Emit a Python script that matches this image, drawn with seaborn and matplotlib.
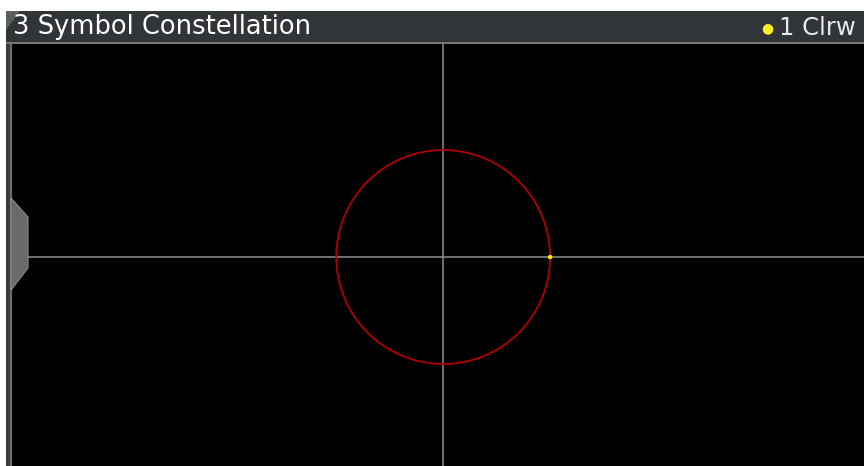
import numpy as np
import pandas as pd
import matplotlib
matplotlib.use("Agg")
import matplotlib.pyplot as plt
from matplotlib.patches import Rectangle, Circle, Polygon
import seaborn as sns

# ---- data ----
title_text = "3 Symbol Constellation"
trace_label = "1 Clrw"
circle_radius = [1.0]
symbol_I = [1.0]
symbol_Q = [0.0]
x_limits = [-4.037, 3.935]
y_limits = [-1.953, 1.991]

sns.set_style("dark")
plt.rcParams['font.family'] = ['DejaVu Sans']

W, H = 864, 466
fig = plt.figure(figsize=(W / 100, H / 100), dpi=100, facecolor="white")

def fx(px):
    return px / W

def fy(py):
    return 1 - py / H

# left border strip
fig.add_artist(Rectangle((fx(6), 0), fx(4), fy(11), transform=fig.transFigure,
                         facecolor="#3a3e40", edgecolor="none"))
fig.add_artist(Rectangle((fx(10), 0), fx(1.5), fy(43), transform=fig.transFigure,
                         facecolor="#6c7072", edgecolor="none"))

# header bar
fig.add_artist(Rectangle((fx(6), fy(43)), fx(858), 32 / H, transform=fig.transFigure,
                         facecolor="#313537", edgecolor="none"))
fig.add_artist(Rectangle((fx(6), fy(44)), fx(858), 1.5 / H, transform=fig.transFigure,
                         facecolor="#72777a", edgecolor="none"))
# lighter corner tab
fig.add_artist(Polygon([(fx(6), fy(11)), (fx(20), fy(11)), (fx(6), fy(30))],
                       closed=True, transform=fig.transFigure,
                       facecolor="#5a5e60", edgecolor="none"))

# main plot axes
ax = fig.add_axes([fx(11.5), 0, 1 - fx(11.5), fy(44)])
ax.set_facecolor("black")
ax.set_xlim(*x_limits)
ax.set_ylim(*y_limits)
ax.axhline(0, color="#8f8f8f", lw=1.1, zorder=1)
ax.axvline(0, color="#8f8f8f", lw=1.1, zorder=1)
for r in circle_radius:
    ax.add_patch(Circle((0, 0), r, fill=False, edgecolor="#b00000", lw=1.3, zorder=2))
df = pd.DataFrame({"I": symbol_I, "Q": symbol_Q})
sns.scatterplot(data=df, x="I", y="Q", ax=ax, color="#ffee00", s=10,
                edgecolor="none", zorder=3)
ax.set_xticks([])
ax.set_yticks([])
ax.set_xlabel("")
ax.set_ylabel("")
for s in ax.spines.values():
    s.set_visible(False)

# left marker tab
fig.add_artist(Polygon([(fx(11), fy(198)), (fx(28), fy(217)), (fx(28), fy(268)),
                        (fx(11), fy(290))], closed=True, transform=fig.transFigure,
                       facecolor="#6a6a6a", edgecolor="#8a8a8a", lw=0.8, zorder=5))

# header texts
fig.text(fx(13), fy(27), title_text, color="white", fontsize=18.5,
         va="center", ha="left")
fig.text(fx(856), fy(28), trace_label, color="#e8e8e8", fontsize=17.5,
         va="center", ha="right")
fig.text(fx(767), fy(28.5), "●", color="#ffee22", fontsize=10, va="center", ha="center")

fig.savefig("out.png", dpi=100, facecolor="white")
